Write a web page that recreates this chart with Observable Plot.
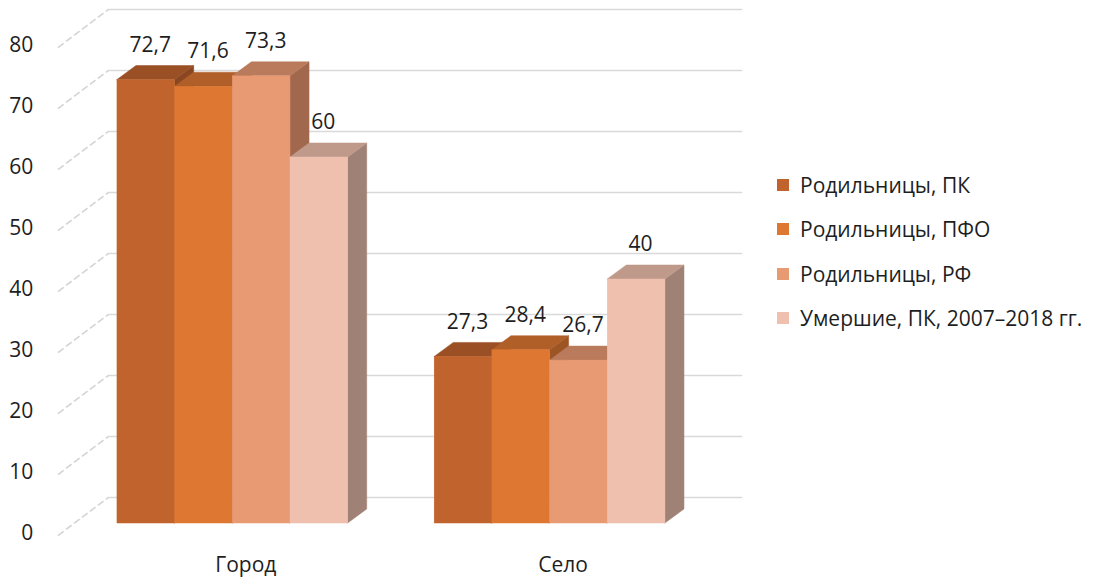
<!DOCTYPE html>
<html>
<head>
<meta charset="utf-8">
<script src="https://cdn.jsdelivr.net/npm/d3@7"></script>
<script src="https://cdn.jsdelivr.net/npm/@observablehq/plot@0.6"></script>
<style>
  html, body { margin: 0; padding: 0; background: #fff; }
  #wrap { position: relative; width: 1094px; height: 579px; font-family: "Open Sans", sans-serif; }
  #legend { position: absolute; left: 777px; top: 163px; }
  .item { display: flex; align-items: center; height: 44.3px; font-size: 21px; color: #1e1e1e; white-space: nowrap; }
  .sw { width: 12px; height: 12px; margin-right: 11px; flex: none; }
</style>
</head>
<body>
<div id="wrap"><div id="chart"></div><div id="legend"></div></div>
<script>
// Share of cases by place of residence, %
const categories = ["Город", "Село"];
const seriesNames = ["Родильницы, ПК", "Родильницы, ПФО", "Родильницы, РФ", "Умершие, ПК, 2007–2018 гг."];
const gorodValues = [72.7, 71.6, 73.3, 60];
const seloValues = [27.3, 28.4, 26.7, 40];
const yTicks = [0, 10, 20, 30, 40, 50, 60, 70, 80];

// Face colours of the 3D columns: front, top (shaded), side (darker)
const frontColors = ["#c0632c", "#dd7732", "#e89a73", "#efc0ae"];
const topColors   = ["#9a4f25", "#b15f29", "#ba7b5c", "#bf9a8b"];
const sideColors  = ["#8a4621", "#9e5524", "#a2684e", "#a08175"];

// Layout of the pseudo-3D scene, in data units
const gap = 1.5;                  // gap between groups, in column widths
const nS = seriesNames.length;
const step = nS + gap;
const xMin = -gap / 2, xMax = categories.length * step - gap / 2;
const barDX = 0.33, barDY = 2.3;   // column depth
const wallDX = 0.59, wallDY = 4.26; // back wall relative to column fronts
const floorDX = -0.28, floorDY = -1.97; // front edge of the floor

const rows = [];
[gorodValues, seloValues].forEach((vals, g) => {
  vals.forEach((v, s) => {
    const x1 = g * step + s;
    rows.push({id: `${g}-${s}`, g, s, category: categories[g], series: seriesNames[s], value: v, x1, x2: x1 + 1});
  });
});

const sidePts = rows.flatMap(d => [
  {id: d.id, x: d.x2, y1: 0, y2: d.value, fill: sideColors[d.s]},
  {id: d.id, x: d.x2 + barDX, y1: barDY, y2: d.value + barDY, fill: sideColors[d.s]}
]);
const topPts = rows.flatMap(d => [
  {id: d.id, y: d.value, x1: d.x1, x2: d.x2, fill: topColors[d.s]},
  {id: d.id, y: d.value + barDY, x1: d.x1 + barDX, x2: d.x2 + barDX, fill: topColors[d.s]}
]);

const fmt = v => String(v).replace(".", ",");
const font = {fontFamily: "Open Sans", fontSize: 21, fill: "#1e1e1e"};

const chart = Plot.plot({
  width: 1094,
  height: 579,
  marginLeft: 73.7,
  marginRight: 385.8,
  marginTop: 35,
  marginBottom: 56,
  style: {fontFamily: "Open Sans", background: "transparent", overflow: "visible"},
  x: {domain: [xMin, xMax], axis: null},
  y: {domain: [0, 80]},
  color: {type: "identity"},
  marks: [
    // back-wall gridlines
    Plot.ruleY(yTicks, {y: t => t + wallDY, x1: xMin + wallDX, x2: xMax + wallDX, stroke: "#d9d9d9", strokeWidth: 1.6}),
    // side-wall depth lines
    Plot.link(yTicks, {
      x1: () => xMin + floorDX, y1: t => t + floorDY,
      x2: () => xMin + wallDX, y2: t => t + wallDY,
      stroke: "#d4d4d4", strokeWidth: 1.6, strokeDasharray: "7,3"
    }),
    Plot.axisY({ticks: yTicks, tickSize: 0, tickPadding: 41, dy: 10, fontSize: 21, fill: "#1e1e1e", fontFamily: "Open Sans"}),
    // column sides, tops, fronts
    Plot.areaY(sidePts, {x: "x", y1: "y1", y2: "y2", z: "id", fill: "fill", stroke: "fill", strokeWidth: 0.5}),
    Plot.areaX(topPts, {y: "y", x1: "x1", x2: "x2", z: "id", fill: "fill", stroke: "fill", strokeWidth: 0.5}),
    Plot.rect(rows, {x1: "x1", x2: "x2", y1: () => 0, y2: "value", fill: d => frontColors[d.s], stroke: d => frontColors[d.s], strokeWidth: 0.5}),
    // value labels
    Plot.text(rows, {x: d => (d.x1 + d.x2) / 2, y: "value", text: d => fmt(d.value), dx: 4, dy: -35, ...font}),
    // category labels
    Plot.text(categories, {x: (d, i) => i * step + (nS - 1) / 2 + 0.5, y: () => 0, text: d => d, dx: 13, dy: 42, ...font})
  ]
});
document.getElementById("chart").append(chart);

const legend = document.getElementById("legend");
seriesNames.forEach((name, i) => {
  const item = document.createElement("div");
  item.className = "item";
  const sw = document.createElement("span");
  sw.className = "sw";
  sw.style.background = frontColors[i];
  item.append(sw, document.createTextNode(name));
  legend.append(item);
});
</script>
</body>
</html>
